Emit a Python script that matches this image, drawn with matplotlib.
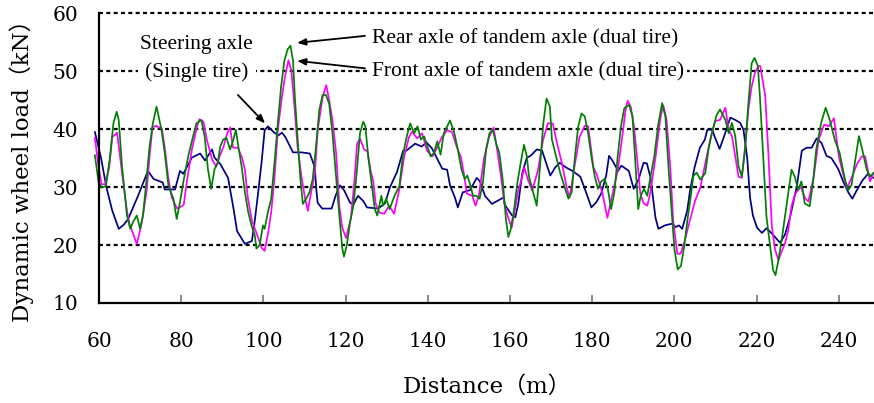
import matplotlib
matplotlib.use("Agg")
import matplotlib.pyplot as plt

# ---------------- data ----------------
steer_x = [59.0, 60.5, 61.8, 63.2, 64.8, 66.0, 67.1, 69.5, 71.9, 73.3, 75.5, 76.0, 78.5, 79.7, 80.5,
           82.6, 84.6, 85.8, 87.5, 88.1, 89.5, 91.4, 92.7, 93.6, 95.5, 97.2, 97.9, 98.7, 99.6, 100.3,
           101.1, 102.5, 103.6, 104.5, 105.3, 107.2, 109.2, 111.3, 112.5, 112.9, 113.2, 114.3, 116.6,
           117.6, 118.6, 119.6, 121.1, 121.9, 123.0, 124.3, 125.2, 127.9, 129.6, 130.8, 132.5, 134.0,
           134.8, 136.9, 138.5, 139.7, 141.0, 142.5, 143.5, 144.7, 145.4, 146.6, 147.3, 148.5, 150.3,
           151.9, 152.7, 153.9, 155.6, 157.1, 158.4, 158.8, 160.5, 161.3, 162.0, 163.0, 164.1, 165.0,
           166.5, 167.8, 168.6, 169.8, 171.0, 172.1, 173.6, 175.2, 177.1, 178.2, 179.8, 181.0, 182.2,
           183.4, 184.1, 184.9, 186.3, 187.1, 188.9, 190.1, 191.3, 192.5, 193.3, 194.2, 195.4, 196.1,
           197.7, 199.5, 200.3, 201.1, 201.9, 203.1, 203.8, 204.9, 206.2, 207.4, 208.0, 209.2, 209.9,
           211.0, 212.3, 213.6, 214.8, 216.0, 216.8, 217.7, 218.4, 219.1, 220.1, 221.3, 222.4, 223.7,
           225.7, 226.9, 228.1, 229.8, 231.0, 232.2, 233.4, 234.6, 235.8, 237.0, 238.2, 239.8, 241.0,
           242.3, 243.3, 244.1, 245.7, 247.1, 248.4]
steer_y = [39.5, 35.0, 30.0, 26.0, 22.8, 23.5, 24.5, 28.5, 32.8, 31.4, 30.8, 29.6, 29.6, 32.8, 32.3,
           35.1, 35.8, 34.6, 36.5, 35.1, 34.0, 31.6, 26.4, 22.4, 20.2, 20.7, 24.2, 28.9, 34.6, 39.8,
           40.5, 39.5, 38.9, 39.4, 38.7, 36.0, 36.0, 35.8, 33.4, 29.4, 27.3, 26.3, 26.3,
           28.6, 30.3, 29.5, 27.3, 27.0, 28.5, 27.6, 26.5, 26.3, 27.2, 30.0, 32.6, 36.3,
           36.3, 37.5, 37.0, 37.7, 36.7, 34.6, 33.2, 33.0, 30.3, 28.2, 26.5, 29.1, 29.5,
           31.6, 31.0, 28.5, 27.1, 27.7, 28.2, 26.9, 25.1, 24.8, 27.1, 32.5, 35.1, 35.4,
           36.5, 36.3, 34.6, 32.0, 33.4, 34.2, 33.4, 32.8, 31.8, 29.7, 26.5, 27.4, 28.9,
           32.0, 35.4, 34.6, 32.8, 33.7, 32.8, 29.7, 31.4, 34.2, 34.1, 31.6, 24.7, 22.8,
           23.4, 23.7, 23.1, 23.4, 22.8, 25.9, 29.4, 33.4, 36.8, 38.2, 39.9, 39.9, 38.5,
           36.6, 39.2, 42.0, 41.6, 41.1, 39.9, 35.1, 28.2, 25.1, 23.0, 22.1, 22.9, 22.0,
           20.4, 21.8, 24.7, 30.2, 36.3, 36.8, 36.8, 38.4, 37.6, 35.4, 35.0, 33.2, 31.1,
           29.1, 28.0, 29.1, 31.1, 32.3, 31.6]

front_x = [59.0, 59.8, 60.6, 61.5, 62.5, 63.2, 64.4, 65.6, 66.8, 67.4, 69.2, 70.0, 70.6, 71.6, 72.3,
           73.0, 73.8, 75.3, 76.0, 76.8, 77.7, 79.0, 80.6, 81.4, 82.6, 83.8, 84.4, 85.4, 86.3, 87.5,
           88.5, 89.5, 90.3, 91.2, 91.9, 92.6, 93.8, 94.8, 95.5, 96.2, 97.2, 98.4, 99.6, 100.3, 101.1,
           101.9, 102.7, 103.5, 104.4, 105.2, 106.1, 106.8, 107.5, 108.3, 109.3, 110.1, 110.8, 111.6,
           112.5, 113.2, 114.4, 115.3, 116.0, 116.8, 117.7, 118.5, 119.2, 120.1, 121.3, 122.1, 122.8,
           123.5, 124.5, 125.3, 126.1, 126.7, 127.3, 128.2, 129.4, 130.6, 131.8, 133.0, 134.2, 135.4,
           136.2, 137.4, 138.6, 139.8, 141.1, 142.2, 143.4, 144.7, 145.9, 147.1, 148.1, 148.8, 149.5,
           150.8, 151.6, 152.4, 153.7, 154.9, 156.0, 156.9, 157.8, 158.6, 159.4, 160.4, 161.1, 161.9,
           162.8, 163.5, 164.3, 165.4, 166.8, 168.0, 169.2, 170.4, 171.3, 172.6, 173.8, 174.5, 175.7,
           176.9, 178.2, 179.0, 180.3, 181.1, 182.5, 183.7, 184.7, 186.2, 187.4, 188.1, 188.6, 189.4,
           190.2, 190.9, 191.7, 192.5, 193.4, 194.1, 195.4, 196.6, 197.3, 198.1, 199.0, 199.7, 200.7,
           201.5, 202.5, 203.7, 205.1, 206.3, 207.5, 208.7, 209.9, 211.1, 212.4, 213.2, 214.0, 214.8,
           215.6, 216.4, 217.2, 218.0, 218.8, 219.6, 220.4, 220.9, 222.1, 222.9, 223.7, 224.5, 225.3,
           226.1, 226.9, 227.7, 228.5, 229.3, 230.7, 231.8, 232.6, 233.9, 235.1, 236.4, 237.6, 238.8,
           240.0, 241.2, 242.0, 243.2, 244.5, 245.6, 246.4, 247.6, 248.4]
front_y = [38.5, 34.0, 30.5, 30.5, 33.5, 38.6, 39.4, 32.5, 25.9, 23.7, 20.2, 22.5, 24.7, 29.4, 35.3,
           40.3, 40.6, 40.1, 36.8, 31.9, 28.2, 26.3, 26.9, 31.1, 36.5, 40.3, 41.7, 41.3, 38.0, 34.8,
           33.5, 35.6, 37.0, 39.3, 40.3, 36.8, 36.8, 35.1, 33.0, 28.2, 24.2, 21.9, 19.5, 19.0, 21.9,
           25.7, 31.6, 39.8, 45.0, 48.9, 51.9, 50.1, 44.4, 37.0, 31.6, 28.2, 25.9, 29.1,
           32.2, 39.8, 45.5, 47.6, 45.0, 41.6, 35.8, 26.5, 23.0, 21.2, 24.7, 30.8, 37.5,
           38.4, 36.5, 36.2, 32.8, 31.1, 27.2, 25.6, 25.4, 26.8, 25.4, 29.4, 35.1, 38.6,
           39.6, 38.4, 39.3, 36.3, 35.3, 36.7, 38.6, 39.8, 39.5, 36.8, 35.1, 32.2, 28.9,
           28.5, 26.8, 28.5, 35.1, 38.6, 40.3, 36.3, 31.9, 27.2, 25.1, 23.0, 25.7, 29.1,
           31.4, 33.4, 31.4, 29.4, 32.9, 38.0, 41.0, 41.0, 38.0, 34.2, 29.9, 28.2, 33.6,
           38.6, 40.6, 40.5, 33.4, 32.2, 28.9, 24.7, 28.1, 32.8, 39.2, 43.2, 44.9, 43.8,
           40.3, 35.1, 28.9, 27.2, 26.8, 28.9, 35.1, 42.0, 44.1, 41.6, 33.4, 24.2, 18.5,
           18.5, 20.7, 24.1, 27.8, 29.9, 34.1, 38.2, 41.4, 41.6, 43.7, 39.9, 38.8, 35.3,
           31.8, 31.6, 37.0, 43.4, 47.4, 49.7, 50.9, 50.9, 45.7, 35.3, 23.2, 19.2, 17.4,
           18.9, 20.3, 22.6, 26.7, 28.7, 30.1, 28.1, 27.5, 31.8, 38.2, 40.8, 40.5, 41.9,
           35.3, 31.8, 29.8, 31.8, 34.1, 35.3, 35.3, 31.0, 32.4]

rear_x = [59.0, 59.9, 60.7, 61.7, 62.7, 63.5, 64.3, 64.8, 65.6, 66.8, 67.6, 68.3, 69.2, 70.0, 70.7,
          71.5, 72.3, 73.1, 74.0, 74.5, 75.2, 76.0, 76.9, 78.1, 78.9, 79.7, 80.5, 81.7, 82.9, 83.7,
          84.9, 85.7, 86.5, 87.3, 88.1, 88.9, 89.5, 90.2, 91.0, 91.9, 92.7, 93.3, 93.9, 94.7, 95.5,
          96.3, 97.1, 97.9, 98.3, 99.1, 99.9, 100.3, 101.1, 101.9, 102.7, 103.5, 104.3, 105.1, 105.9,
          106.6, 107.2, 107.7, 108.4, 109.0, 109.6, 110.4, 111.2, 112.0, 112.8, 113.6, 114.4, 115.2,
          116.0, 116.8, 117.6, 118.4, 119.2, 119.6, 120.3, 121.1, 121.9, 122.7, 123.5, 124.3, 124.8,
          125.5, 126.3, 127.1, 127.7, 128.7, 129.1, 129.9, 130.7, 131.9, 133.1, 133.9, 134.7, 135.7,
          136.7, 137.5, 138.3, 139.1, 139.9, 140.7, 141.5, 142.3, 143.1, 143.9, 145.4, 146.4, 147.3,
          148.2, 149.0, 149.6, 150.4, 151.0, 151.8, 152.6, 153.4, 154.2, 155.0, 155.8, 156.6, 157.4,
          158.2, 159.0, 159.6, 160.2, 161.0, 161.8, 162.6, 163.4, 164.1, 164.6, 165.4, 166.5, 167.3,
          168.1, 168.9, 169.7, 170.2, 171.0, 172.2, 173.2, 174.2, 175.0, 175.8, 176.6, 177.4, 178.2,
          179.0, 179.8, 180.6, 181.4, 182.2, 183.0, 183.8, 184.6, 185.4, 186.2, 187.0, 187.8, 189.0,
          189.8, 190.6, 191.2, 191.8, 192.6, 193.4, 194.2, 195.1, 196.0, 197.0, 197.8, 198.6, 199.4,
          200.0, 200.8, 201.6, 202.4, 203.2, 204.0, 204.6, 205.4, 206.3, 207.5, 208.3, 209.1, 210.3,
          211.1, 212.4, 213.2, 214.0, 214.8, 215.6, 216.4, 217.2, 218.0, 218.8, 219.5, 220.3, 220.8,
          221.6, 222.4, 223.2, 224.0, 224.6, 225.3, 226.1, 226.9, 227.7, 228.5, 229.3, 230.1, 230.9,
          231.7, 232.9, 233.7, 234.5, 235.7, 236.8, 237.8, 239.0, 240.2, 241.5, 242.3, 243.1, 243.9,
          244.9, 245.7, 246.8, 247.6, 248.4]
rear_y = [35.5, 30.8, 29.9, 30.2, 35.3, 41.0, 43.0, 41.6, 33.6, 25.1, 22.8, 24.0, 25.1, 22.8, 25.1,
          30.8, 37.0, 41.0, 43.9, 42.2, 39.9, 35.9, 30.2, 28.0, 24.5, 27.4, 30.8, 35.3, 38.8, 41.0,
          41.6, 38.75, 33.1, 29.7, 33.1, 34.2, 37.0, 38.2, 38.5, 36.5, 38.2, 39.9, 37.0, 33.6, 29.1,
          25.7, 23.4, 21.7, 19.4, 20.0, 23.4, 22.8, 25.7, 28.0, 34.2, 41.0, 47.3, 51.8, 53.8,
          54.4, 51.8, 45.0, 37.6, 31.4, 27.1, 28.0, 29.1, 31.4, 37.0, 43.3, 45.9, 45.9,
          44.4, 39.3, 32.5, 25.7, 19.4, 18.0, 20.0, 24.0, 26.8, 32.5, 39.3, 41.3, 40.5,
          35.3, 30.8, 26.2, 25.1, 28.5, 26.8, 28.0, 26.2, 28.5, 30.2, 35.3, 38.2, 41.0,
          39.3, 40.5, 38.2, 38.75, 37.0, 35.3, 35.9, 37.9, 35.6, 39.3, 41.5, 39.5, 36.5,
          33.0, 31.4, 32.0, 30.2, 28.5, 28.5, 28.0, 30.8, 36.5, 39.3, 39.9, 37.6, 35.9,
          31.4, 24.5, 21.4, 22.8, 26.2, 30.8, 34.2, 37.3, 35.3, 31.9, 29.7, 26.8, 33.6,
          41.0, 45.3, 43.9, 38.2, 35.9, 32.5, 30.2, 28.0, 29.1, 35.3, 40.5, 42.7, 42.2,
          39.3, 35.3, 31.9, 29.7, 31.0, 31.4, 29.7, 26.2, 29.1, 35.3, 40.5, 43.6, 44.2,
          42.2, 33.0, 26.2, 28.5, 29.7, 28.5, 31.9, 35.3, 40.5, 44.5, 42.2, 33.0, 25.1,
          19.3, 15.8, 16.4, 19.9, 24.5, 28.5, 31.9, 32.5, 31.3, 32.4, 36.5, 39.3, 42.5,
          43.4, 41.6, 39.3, 41.1, 38.8, 33.6, 31.8, 36.5, 44.5, 51.4, 52.3, 50.9, 45.7,
          35.3, 24.9, 20.3, 15.7, 14.8, 17.4, 20.9, 24.9, 29.0, 33.0, 31.8, 29.5, 31.0,
          27.2, 26.7, 30.7, 36.5, 41.1, 43.7, 41.6, 38.2, 35.9, 31.3, 29.5, 30.4, 34.2,
          38.8, 36.5, 33.0, 31.8, 32.4]

x_ticks = [60, 80, 100, 120, 140, 160, 180, 200, 220, 240]
y_ticks = [10, 20, 30, 40, 50, 60]
grid_levels = [20, 30, 40, 50, 60]

x_label = "Distance（m）"
y_label = "Dynamic wheel load（kN）"
label_steer = "Steering axle\n(Single tire)"
label_rear = "Rear axle of tandem axle (dual tire)"
label_front = "Front axle of tandem axle (dual tire)"

# ---------------- figure ----------------
W, H = 874, 403
fig = plt.figure(figsize=(W / 100, H / 100), dpi=100)
ax = fig.add_axes([99 / W, 100 / H, 775 / W, 289.7 / H])
ax.set_xlim(60, 248.56)
ax.set_ylim(10, 60)

for v in grid_levels:
    ax.axhline(v, color="black", lw=1.6, ls=(0, (1.8, 1.5)), zorder=1, clip_on=False)

lw = 1.25
ax.plot(steer_x, steer_y, color="#000080", lw=lw, zorder=3, clip_on=False)
ax.plot(front_x, front_y, color="#FF00FF", lw=lw, zorder=4, clip_on=False)
ax.plot(rear_x, rear_y, color="#008000", lw=lw, zorder=5, clip_on=False)

for s in ["top", "right"]:
    ax.spines[s].set_visible(False)
for s in ["left", "bottom"]:
    ax.spines[s].set_linewidth(1.6)
    ax.spines[s].set_color("black")
    ax.spines[s].set_zorder(6)

tick_font = {"family": "DejaVu Serif", "size": 14.5}
ax.set_xticks(x_ticks)
ax.set_yticks(y_ticks)
ax.set_xticklabels([str(t) for t in x_ticks], fontdict=tick_font)
ax.set_yticklabels([str(t) for t in y_ticks], fontdict=tick_font)
ax.tick_params(axis="x", direction="in", length=6, width=1.3, color="#808080", pad=21)
ax.tick_params(axis="y", length=0, pad=15)

lab_fam = ["DejaVu Serif", "Noto Sans CJK JP"]
fig.text(487 / W, 1 - 387 / H, x_label, family=lab_fam, size=16.5, ha="center", va="center")
fig.text(22 / W, 1 - 165 / H, y_label, family=lab_fam, size=16.5, ha="center", va="center",
         rotation=90)

ann_font = dict(family="Liberation Serif", size=15.5)
box = dict(facecolor="white", edgecolor="none", pad=2)
ax.text(83.8, 52.2, label_steer, ha="center", va="center", linespacing=1.55, zorder=2,
        bbox=box, **ann_font)
ax.text(126.4, 55.6, label_rear, ha="left", va="center", zorder=2, bbox=box, **ann_font)
ax.text(126.4, 49.9, label_front, ha="left", va="center", zorder=2, bbox=box, **ann_font)

arrow = dict(arrowstyle="-|>,head_length=0.5,head_width=0.2", color="black", lw=1.3,
             shrinkA=0, shrinkB=0)
ax.annotate("", xy=(100.4, 41.0), xytext=(93.8, 45.9), arrowprops=arrow)
ax.annotate("", xy=(108.2, 54.9), xytext=(124.7, 56.1), arrowprops=arrow)
ax.annotate("", xy=(108.2, 51.8), xytext=(124.7, 50.5), arrowprops=arrow)

fig.savefig("out.png", dpi=100)
